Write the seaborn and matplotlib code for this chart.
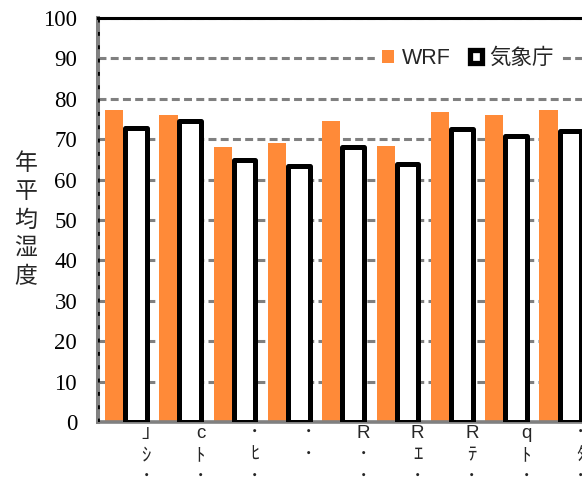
import matplotlib
matplotlib.use("Agg")
import matplotlib.pyplot as plt
import matplotlib.transforms as mtransforms
from matplotlib.patches import Patch
from matplotlib.ticker import FixedLocator
import numpy as np
import pandas as pd
import seaborn as sns

# Station labels (as stored in the source workbook) and annual mean humidity (%)
stations = ["｣\nｼ\n･", "c\nﾄ\n･", "･\nﾋ\n･", "･\n･", "R\n･\n･",
            "R\nｴ\n･", "R\nﾃ\n･", "q\nﾄ\n･", "･\nﾀ\n･"]
wrf = [77.2, 75.9, 68.1, 69.0, 74.6, 68.4, 76.8, 75.9, 77.2]
jma = [72.8, 74.4, 64.9, 63.4, 68.1, 63.9, 72.6, 70.8, 72.1]
series = ["WRF", "気象庁"]
yticks = list(range(0, 101, 10))

df = pd.DataFrame({
    "station": stations * 2,
    "source": [series[0]] * len(stations) + [series[1]] * len(stations),
    "value": wrf + jma,
})

sns.set_theme(style="white")
plt.rcParams["font.family"] = ["Liberation Sans", "Noto Sans CJK JP", "DejaVu Sans"]

ORANGE = "#FF8A38"
GRAY = "#808080"

fig = plt.figure(figsize=(5.82, 4.95), dpi=100)
ax = fig.add_axes([98 / 582, 73 / 495, 484 / 582, 404 / 495])

sns.barplot(data=df, x="station", y="value", hue="source", hue_order=series,
            palette={series[0]: ORANGE, series[1]: "white"}, saturation=1,
            width=0.8, legend=False, ax=ax, errorbar=None)

# first series: slightly narrower solid bars
for p in ax.containers[0]:
    p.set_edgecolor("none")
    p.set_x(p.get_x() + 0.03)
    p.set_width(p.get_width() - 0.065)
# second series: white bars with thick black rounded outlines
for p in ax.containers[1]:
    p.set_facecolor("white")
    p.set_edgecolor("black")
    p.set_linewidth(3.6)
    p.set_joinstyle("round")
    p.set_zorder(3)

ax.set_ylim(0, 100)
ax.set_xlim(-0.5, -0.5 + 484 / 54.3)
ax.set_yticks(yticks)
ax.set_xlabel("")
ax.set_ylabel("")

# dashed horizontal grid behind bars
ax.set_axisbelow(True)
ax.yaxis.grid(True, color=GRAY, linewidth=2.2, linestyle=(0, (2.6, 1.4)))
ax.xaxis.grid(False)

# spines
ax.spines["right"].set_visible(False)
ax.spines["top"].set_color("black")
ax.spines["top"].set_linewidth(2.2)
ax.spines["bottom"].set_color(GRAY)
ax.spines["bottom"].set_linewidth(2.6)
ax.spines["left"].set_color(GRAY)
ax.spines["left"].set_linewidth(2.9)
ax.axvline(-0.5, color="black", linewidth=2.0, linestyle=(0, (1.4, 3.4)), zorder=5)

# y ticks
ax.tick_params(axis="y", which="major", direction="out", length=6, width=2,
               color=GRAY, pad=9, labelsize=16.5)
for lab in ax.get_yticklabels():
    lab.set_fontfamily("Liberation Serif")
    lab.set_color("black")

# x ticks: boundary marks as minor ticks, labels at group centres
ax.xaxis.set_minor_locator(FixedLocator(np.arange(-0.5, 9.5, 1.0)))
ax.tick_params(axis="x", which="minor", direction="out", length=4, width=2, color=GRAY)
ax.tick_params(axis="x", which="major", length=0, pad=2, labelsize=13.5)
offset = mtransforms.ScaledTranslation(21 / 100, 0, fig.dpi_scale_trans)
for lab in ax.get_xticklabels():
    lab.set_transform(lab.get_transform() + offset)
    lab.set_linespacing(1.4)
    lab.set_verticalalignment("top")

# vertical stacked axis title
fig.text(26 / 582, 1 - 220 / 495, "年\n平\n均\n湿\n度", ha="center", va="center",
         fontsize=16.5, linespacing=1.3, family=["Noto Sans CJK JP"])

handles = [
    Patch(facecolor=ORANGE, edgecolor="none", label=series[0]),
    Patch(facecolor="white", edgecolor="black", linewidth=3.8, label=series[1]),
]
leg = fig.legend(handles=handles, loc="upper right", bbox_to_anchor=(572 / 582, 1 - 30 / 495),
                 ncol=2, frameon=True, fontsize=15.5, handlelength=0.55, handleheight=0.55,
                 handletextpad=0.35, columnspacing=0.9, borderpad=0.35, fancybox=False)
leg.get_frame().set_facecolor("white")
leg.get_frame().set_edgecolor("white")
leg.get_frame().set_alpha(1)

fig.savefig("out.png", dpi=100)
